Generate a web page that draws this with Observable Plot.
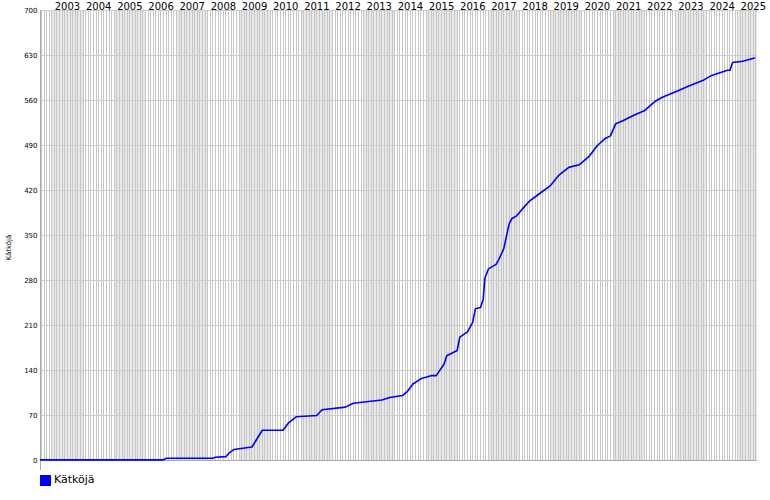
<!DOCTYPE html>
<html>
<head>
<meta charset="utf-8">
<script src="https://cdn.jsdelivr.net/npm/d3@7"></script>
<script src="https://cdn.jsdelivr.net/npm/@observablehq/plot@0.6"></script>
<style>
  html, body { margin: 0; padding: 0; background: #fff; }
  #legend { position: relative; height: 28px; font-family: "DejaVu Sans", sans-serif; font-size: 11px; }
  #legend .sw { position: absolute; left: 40px; top: 3px; width: 11px; height: 11px; background: #0000ff; }
  #legend .lb { position: absolute; left: 54px; top: 1px; color: #000; }
</style>
</head>
<body>
<div id="chart"></div>
<div id="legend"><span class="sw"></span><span class="lb"></span></div>
<script>
// ---- data ----
const seriesName = "Kätköjä";
const yAxisLabel = "Kätköjä";
const dates = [
  "2002-08-20","2006-08-01","2006-09-01","2008-03-01","2008-04-01","2008-08-01","2008-09-01","2008-11-01",
  "2009-06-01","2009-10-01","2010-06-01","2010-08-01","2010-11-01","2011-07-01","2011-09-01",
  "2012-06-01","2012-09-01","2013-08-01","2013-11-01","2014-04-01","2014-06-01","2014-08-01","2014-11-01",
  "2015-03-01","2015-05-01","2015-08-01","2015-09-01","2016-01-01","2016-02-01","2016-05-01","2016-07-01",
  "2016-08-01","2016-10-01","2016-11-01","2016-11-20","2017-01-01","2017-04-01","2017-05-01","2017-07-01",
  "2017-09-01","2017-10-01","2017-12-01","2018-02-01","2018-05-01","2018-08-01","2019-01-01","2019-04-01",
  "2019-08-01","2019-12-01","2020-04-01","2020-07-01","2020-10-01","2020-12-01","2021-02-01","2021-05-01",
  "2021-09-01","2022-01-01","2022-05-01","2022-08-01","2023-02-01","2023-06-01","2023-12-01","2024-03-01",
  "2024-09-01","2024-10-01","2024-11-01","2025-03-01","2025-07-15"
];
const values = [
  1,1,3.5,3.5,5,6,11,17,
  21,47,47,58,68,70,79,
  83,89,94,98,101,108,119,127,
  132,132,150,163,171,192,200,215,
  236,238,251,283,298,305,312,330,
  368,376,381,391,404,413,428,443,
  456,460,474,490,501,505,524,529,
  537,544,558,565,575,582,592,599,
  607,607,619,621,626
];
const years = d3.range(2003, 2026);          // year labels
const yTicks = d3.range(0, 701, 70);         // y tick values
const xStart = new Date("2002-08-20");
const xEnd = new Date("2025-08-20");

// ---- derived ----
const data = dates.map((d, i) => ({date: new Date(d), value: values[i]}));
const bands = d3.range(2002, 2026).filter(y => y % 2 === 1).map(y => ({
  x1: new Date(Math.max(+xStart, Date.UTC(y, 0, 1))),
  x2: new Date(Math.min(+xEnd, Date.UTC(y + 1, 0, 1)))
}));
const months = d3.utcMonth.range(new Date("2002-09-01"), xEnd);
const yearMids = years.map(y => ({year: y, date: new Date(Date.UTC(y, 6, 2))}));

const chart = Plot.plot({
  width: 770,
  height: 472,
  marginLeft: 40,
  marginRight: 13,
  marginTop: 10,
  marginBottom: 12,
  style: {fontFamily: "DejaVu Sans, sans-serif", fontSize: "10px", background: "#fff", color: "#000"},
  x: {type: "utc", domain: [xStart, xEnd], axis: null},
  y: {domain: [0, 700], axis: null},
  marks: [
    Plot.rect(bands, {x1: "x1", x2: "x2", y1: 0, y2: 700, fill: "#e8e8e8", shapeRendering: "crispEdges"}),
    Plot.ruleX(months, {y1: 0, y2: 700, stroke: "#c6c6c6", strokeWidth: 1, shapeRendering: "crispEdges"}),
    Plot.ruleY(yTicks, {stroke: "#cccccc", strokeWidth: 1, shapeRendering: "crispEdges"}),
    Plot.ruleY([0], {stroke: "#aaaaaa", shapeRendering: "crispEdges"}),
    Plot.ruleX([xStart], {y1: -16, y2: 700, stroke: "#aaaaaa", shapeRendering: "crispEdges"}),
    Plot.line(data, {x: "date", y: "value", stroke: "#0000ff", strokeWidth: 1.6}),
    Plot.text(yearMids, {x: "date", y: 700, text: d => String(d.year), lineAnchor: "bottom", dy: -1, fontSize: 10, fill: "#000"}),
    Plot.axisY({ticks: yTicks, tickSize: 0, tickPadding: 3, fontSize: 7, label: null, style: {letterSpacing: "1px"}}),
    Plot.text([yAxisLabel], {frameAnchor: "left", dx: -32, dy: 25, rotate: -90, fontSize: 7, fill: "#000"})
  ]
});
document.getElementById("chart").appendChild(chart);
document.querySelector("#legend .lb").textContent = seriesName;
</script>
</body>
</html>
